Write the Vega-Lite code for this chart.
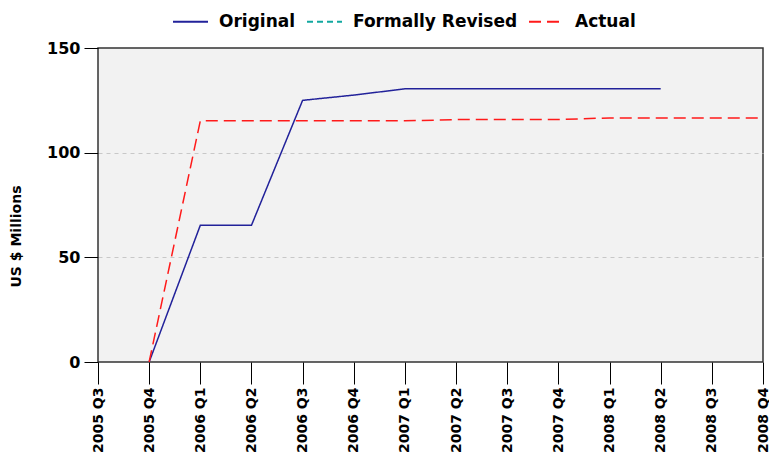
{
  "$schema": "https://vega.github.io/schema/vega-lite/v6.json",
  "autosize": "none",
  "width": 665,
  "height": 314,
  "padding": {"left": 98, "top": 48, "right": 6, "bottom": 99},
  "background": "white",
  "config": {
    "font": "DejaVu Sans",
    "view": {"fill": "#f2f2f2", "stroke": "#333333", "strokeWidth": 1.5}
  },
  "data": {
    "values": [
      {"quarter": "2005 Q4", "series": "Original", "value": 0},
      {"quarter": "2006 Q1", "series": "Original", "value": 65.3},
      {"quarter": "2006 Q2", "series": "Original", "value": 65.3},
      {"quarter": "2006 Q3", "series": "Original", "value": 125},
      {"quarter": "2006 Q4", "series": "Original", "value": 127.5},
      {"quarter": "2007 Q1", "series": "Original", "value": 130.5},
      {"quarter": "2007 Q2", "series": "Original", "value": 130.5},
      {"quarter": "2007 Q3", "series": "Original", "value": 130.5},
      {"quarter": "2007 Q4", "series": "Original", "value": 130.5},
      {"quarter": "2008 Q1", "series": "Original", "value": 130.5},
      {"quarter": "2008 Q2", "series": "Original", "value": 130.5},
      {"quarter": "2005 Q4", "series": "Actual", "value": 0},
      {"quarter": "2006 Q1", "series": "Actual", "value": 115.2},
      {"quarter": "2006 Q2", "series": "Actual", "value": 115.2},
      {"quarter": "2006 Q3", "series": "Actual", "value": 115.2},
      {"quarter": "2006 Q4", "series": "Actual", "value": 115.2},
      {"quarter": "2007 Q1", "series": "Actual", "value": 115.2},
      {"quarter": "2007 Q2", "series": "Actual", "value": 115.8},
      {"quarter": "2007 Q3", "series": "Actual", "value": 115.8},
      {"quarter": "2007 Q4", "series": "Actual", "value": 115.8},
      {"quarter": "2008 Q1", "series": "Actual", "value": 116.6},
      {"quarter": "2008 Q2", "series": "Actual", "value": 116.6},
      {"quarter": "2008 Q3", "series": "Actual", "value": 116.6},
      {"quarter": "2008 Q4", "series": "Actual", "value": 116.6}
    ]
  },
  "mark": {"type": "line", "strokeWidth": 1.5, "clip": true},
  "encoding": {
    "x": {
      "field": "quarter",
      "type": "ordinal",
      "scale": {
        "type": "point",
        "padding": 0,
        "domain": ["2005 Q3", "2005 Q4", "2006 Q1", "2006 Q2", "2006 Q3", "2006 Q4", "2007 Q1", "2007 Q2", "2007 Q3", "2007 Q4", "2008 Q1", "2008 Q2", "2008 Q3", "2008 Q4"]
      },
      "axis": {
        "title": null,
        "labelAngle": -90,
        "labelAlign": "right",
        "labelBaseline": "middle",
        "labelFont": "DejaVu Sans",
        "labelFontWeight": "bold",
        "labelFontSize": 14,
        "labelColor": "#000000",
        "labelPadding": 3,
        "tickSize": 22,
        "tickColor": "#000000",
        "domain": false,
        "grid": false
      }
    },
    "y": {
      "field": "value",
      "type": "quantitative",
      "scale": {"domain": [0, 150], "nice": false},
      "axis": {
        "title": "US $ Millions",
        "titleFont": "DejaVu Sans",
        "titleFontSize": 14,
        "titleFontWeight": "bold",
        "titleColor": "#000000",
        "titleAngle": -90,
        "titleAlign": "center",
        "titleBaseline": "middle",
        "titleX": -82,
        "titleY": 188,
        "values": [0, 50, 100, 150],
        "labelFont": "DejaVu Sans",
        "labelFontWeight": "bold",
        "labelFontSize": 16,
        "labelColor": "#000000",
        "labelPadding": 4,
        "tickSize": 14,
        "tickColor": "#000000",
        "domain": false,
        "grid": true,
        "gridColor": "#c8c8c8",
        "gridDash": [4, 4],
        "gridWidth": 1,
        "gridOpacity": {"condition": {"test": "datum.value === 0 || datum.value === 150", "value": 0}, "value": 1}
      }
    },
    "color": {
      "field": "series",
      "type": "nominal",
      "scale": {
        "domain": ["Original", "Formally Revised", "Actual"],
        "range": ["#22229a", "#12a8a0", "#ff1a1a"]
      },
      "legend": {
        "title": null,
        "orient": "none",
        "direction": "horizontal",
        "legendX": 74,
        "legendY": -45,
        "symbolType": "stroke",
        "symbolSize": 1225,
        "symbolStrokeWidth": 2,
        "labelFont": "DejaVu Sans",
        "labelFontWeight": "bold",
        "labelFontSize": 17,
        "labelColor": "#000000",
        "labelLimit": 400,
        "columnPadding": 7,
        "labelOffset": 10
      }
    },
    "strokeDash": {
      "field": "series",
      "type": "nominal",
      "scale": {
        "domain": ["Original", "Formally Revised", "Actual"],
        "range": [[1, 0], [6, 4], [12, 6]]
      },
      "legend": {
        "title": null,
        "orient": "none",
        "direction": "horizontal",
        "legendX": 74,
        "legendY": -45,
        "symbolType": "stroke",
        "symbolSize": 1225,
        "symbolStrokeWidth": 2,
        "labelFont": "DejaVu Sans",
        "labelFontWeight": "bold",
        "labelFontSize": 17,
        "labelColor": "#000000",
        "labelLimit": 400,
        "columnPadding": 7,
        "labelOffset": 10
      }
    }
  }
}
